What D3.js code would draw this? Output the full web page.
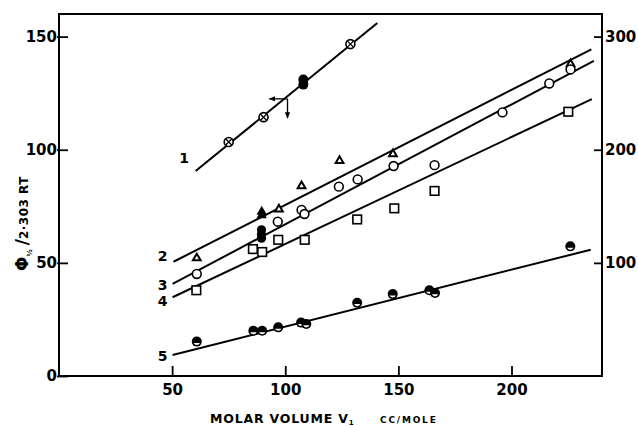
<!DOCTYPE html>
<html lang="en">
<head>
  <meta charset="UTF-8">
  <title>Molar volume plot</title>
  <script src="https://d3js.org/d3.v7.min.js"></script>
  <style>
    body { margin: 0; background: #fff; }
    text { font-family: "DejaVu Sans", sans-serif; font-weight: bold; fill: #000; }
  </style>
</head>
<body>
  <div id="chart"></div>
  <script>
    // tick values
    const xTicks = [50, 100, 150, 200];
    const yTicksLeft = [0, 50, 100, 150];
    const yTicksRight = [100, 200, 300];

    // line 1 : crossed circles (and a filled pair)
    const s1X = [75, 90.4, 128.8];
    const s1Y = [103.4, 114.4, 146.7];
    const s1FillX = [108, 108];
    const s1FillY = [131, 128.8];

    // line 2 : triangles
    const s2X = [60.9, 97.2, 107.2, 124, 147.6, 226.1];
    const s2Y = [52.1, 73.7, 84, 95.1, 98.1, 137.9];
    const s2FillX = [89.6, 89.6];
    const s2FillY = [72.6, 71];

    // line 3 : open circles (and filled ones at ~89)
    const s3X = [60.9, 96.7, 107.2, 108.5, 123.7, 132, 147.9, 166, 196, 216.7, 226.1];
    const s3Y = [45.1, 68.2, 73.4, 71.6, 83.7, 86.9, 92.8, 93.2, 116.5, 129.3, 135.5];
    const s3FillX = [89.5, 89.5, 89.5];
    const s3FillY = [64.6, 62.7, 60.9];

    // line 4 : squares
    const s4X = [60.7, 85.7, 89.8, 96.9, 108.6, 131.8, 148.2, 166, 225.1];
    const s4Y = [37.9, 56.1, 54.8, 60.2, 60.2, 69.2, 74.1, 81.8, 116.8];

    // line 5 : half filled circles
    const s5X = [60.9, 85.9, 89.8, 96.9, 107, 109.3, 131.8, 147.5, 163.7, 166.2, 226];
    const s5Y = [15.2, 20.0, 20.0, 21.5, 23.6, 23.0, 32.4, 36.2, 37.9, 36.7, 57.3];

    // fitted lines (end points)
    const fitLines = [
      [[60.4, 90.6], [140.7, 156]],
      [[50.6, 50.5], [235.3, 144.4]],
      [[50.2, 40.7], [236.4, 139.3]],
      [[50.2, 34.8], [235.5, 122.4]],
      [[50.2, 9.3], [235, 55.8]]
    ];
    const lineNames = ["1", "2", "3", "4", "5"];
    const lineLabelX = [57.5, 48, 48, 48, 48];
    const lineLabelY = [94, 51, 38.2, 30.8, 6.8];

    // axis indicator arrows on line 1
    const arrowFrom = [101, 122.5];
    const arrowLeftTo = [93, 122.5];
    const arrowDownTo = [101, 114];

    const width = 638, height = 426;
    const margin = { top: 14, right: 36, bottom: 50, left: 59 };

    const svg = d3.select('#chart').append('svg')
      .attr('width', width)
      .attr('height', height);

    const x = d3.scaleLinear().domain([0, 240]).range([margin.left, width - margin.right]);
    const y = d3.scaleLinear().domain([0, 160]).range([height - margin.bottom, margin.top]);
    const y2 = d3.scaleLinear().domain([0, 320]).range([height - margin.bottom, margin.top]);

    // frame
    svg.append('rect')
      .attr('x', x(0)).attr('y', y(160))
      .attr('width', x(240) - x(0)).attr('height', y(0) - y(160))
      .attr('fill', 'none').attr('stroke', '#000').attr('stroke-width', 2);

    // axes with inward ticks
    const axisStyle = g => {
      g.select('.domain').remove();
      g.selectAll('.tick line').attr('stroke', '#000').attr('stroke-width', 1.8);
      g.selectAll('.tick text').attr('font-size', 15).style('font-family', '"DejaVu Sans", sans-serif').style('font-weight', 'bold');
    };

    svg.append('g')
      .attr('transform', `translate(0,${y(0)})`)
      .call(d3.axisBottom(x).tickValues(xTicks).tickSize(-10).tickPadding(8))
      .call(axisStyle);

    svg.append('g')
      .attr('transform', `translate(${x(0)},0)`)
      .call(d3.axisLeft(y).tickValues(yTicksLeft).tickSize(-9).tickPadding(2))
      .call(axisStyle)
      .call(g => g.selectAll('.tick line').attr('x1', -2));

    svg.append('g')
      .attr('transform', `translate(${x(240)},0)`)
      .call(d3.axisRight(y2).tickValues(yTicksRight).tickSize(-8).tickPadding(3))
      .call(axisStyle);

    // fitted lines
    svg.selectAll('.fit')
      .data(fitLines)
      .enter().append('line')
      .attr('x1', d => x(d[0][0])).attr('y1', d => y(d[0][1]))
      .attr('x2', d => x(d[1][0])).attr('y2', d => y(d[1][1]))
      .attr('stroke', '#000').attr('stroke-width', 2);

    // line numbers
    svg.selectAll('.lab')
      .data(lineNames)
      .enter().append('text')
      .attr('x', (d, i) => x(lineLabelX[i]))
      .attr('y', (d, i) => y(lineLabelY[i]))
      .attr('text-anchor', 'end')
      .attr('font-size', 14)
      .text(d => d);

    const zip = (xs, ys) => xs.map((v, i) => [v, ys[i]]);
    const pt = d => `translate(${x(d[0])},${y(d[1])})`;

    // series 1
    const crossed = svg.selectAll('.s1')
      .data(zip(s1X, s1Y))
      .enter().append('g')
      .attr('transform', pt);
    crossed.append('circle').attr('r', 4.5).attr('fill', '#fff').attr('stroke', '#000').attr('stroke-width', 1.6);
    crossed.append('path').attr('d', 'M-3,-3L3,3M-3,3L3,-3').attr('stroke', '#000').attr('stroke-width', 1.3);
    svg.selectAll('.s1f')
      .data(zip(s1FillX, s1FillY))
      .enter().append('circle')
      .attr('transform', pt).attr('r', 5).attr('fill', '#000');

    // series 2
    const tri = d3.symbol().type(d3.symbolTriangle).size(26);
    svg.selectAll('.s2')
      .data(zip(s2X, s2Y))
      .enter().append('path')
      .attr('transform', pt).attr('d', tri)
      .attr('fill', '#fff').attr('stroke', '#000').attr('stroke-width', 2);
    svg.selectAll('.s2f')
      .data(zip(s2FillX, s2FillY))
      .enter().append('path')
      .attr('transform', pt).attr('d', tri)
      .attr('fill', '#000').attr('stroke', '#000').attr('stroke-width', 1.5);

    // series 3
    svg.selectAll('.s3')
      .data(zip(s3X, s3Y))
      .enter().append('circle')
      .attr('transform', pt).attr('r', 4.4)
      .attr('fill', '#fff').attr('stroke', '#000').attr('stroke-width', 1.6);
    svg.selectAll('.s3f')
      .data(zip(s3FillX, s3FillY))
      .enter().append('circle')
      .attr('transform', pt).attr('r', 4.6).attr('fill', '#000');

    // series 4
    svg.selectAll('.s4')
      .data(zip(s4X, s4Y))
      .enter().append('rect')
      .attr('transform', pt)
      .attr('x', -4.3).attr('y', -4.3).attr('width', 8.6).attr('height', 8.6)
      .attr('fill', '#fff').attr('stroke', '#000').attr('stroke-width', 1.6);

    // series 5
    const half = svg.selectAll('.s5')
      .data(zip(s5X, s5Y))
      .enter().append('g')
      .attr('transform', pt);
    half.append('circle').attr('r', 5).attr('fill', '#000');
    half.append('path').attr('d', 'M-3.2,1.4A3.5,3.5 0 0 0 3.2,1.4Z').attr('fill', '#fff');

    // arrows
    const defs = svg.append('defs');
    defs.append('marker')
      .attr('id', 'head').attr('viewBox', '0 0 10 10')
      .attr('refX', 9).attr('refY', 5)
      .attr('markerWidth', 5).attr('markerHeight', 5)
      .attr('orient', 'auto')
      .append('path').attr('d', 'M0,1L10,5L0,9Z').attr('fill', '#000');
    [arrowLeftTo, arrowDownTo].forEach(to => {
      svg.append('line')
        .attr('x1', x(arrowFrom[0])).attr('y1', y(arrowFrom[1]))
        .attr('x2', x(to[0])).attr('y2', y(to[1]))
        .attr('stroke', '#000').attr('stroke-width', 1.3)
        .attr('marker-end', 'url(#head)');
    });

    // y title
    const yt = svg.append('text')
      .attr('transform', 'translate(28,271) rotate(-90)')
      .attr('font-size', 12);
    yt.append('tspan').attr('font-size', 17).text('Φ');
    yt.append('tspan').attr('font-size', 7).attr('dy', 4).text('½');
    yt.append('tspan').attr('font-size', 17).attr('dy', -4).attr('dx', 4).text('/');
    yt.append('tspan').attr('letter-spacing', 0.5).text('2·303 RT');

    // x title
    const xt = svg.append('text')
      .attr('x', 210).attr('y', 423)
      .attr('font-size', 12.5);
    xt.append('tspan').attr('letter-spacing', 0.8).text('MOLAR VOLUME V');
    xt.append('tspan').attr('font-size', 7).attr('dy', 2).text('1');
    xt.append('tspan').attr('font-size', 9).attr('dy', -2).attr('x', 380)
      .attr('letter-spacing', 1.8).text('CC/MOLE');
  </script>
</body>
</html>
